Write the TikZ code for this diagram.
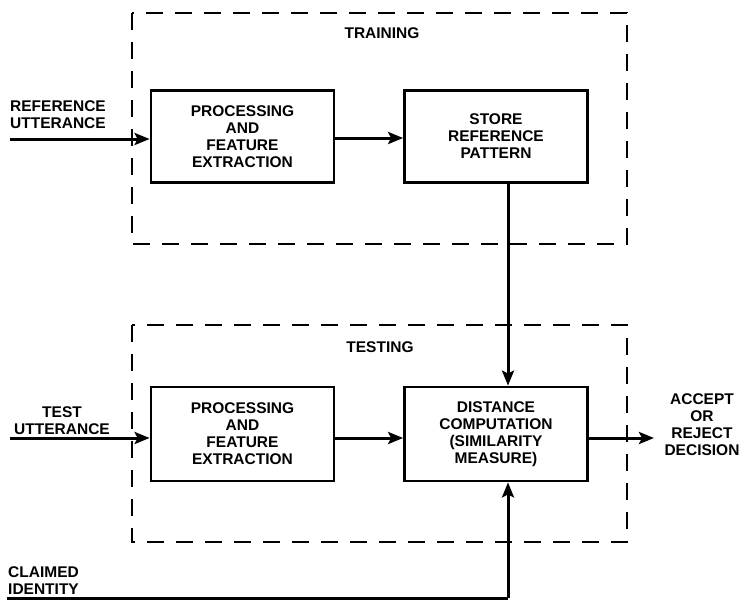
\documentclass[tikz,border=0pt]{standalone}
\usepackage{fontspec}
\setmainfont{Liberation Sans}
\usetikzlibrary{arrows.meta}
\begin{document}
\begin{tikzpicture}[x=1pt,y=-1pt,
  lbl/.style={font=\bfseries\fontsize{15.5}{17}\selectfont, align=center, inner sep=0pt},
  blk/.style={draw, line width=2.8pt, minimum width=183pt, minimum height=92pt, inner sep=0pt,
              font=\bfseries\fontsize{15.5}{17}\selectfont, align=center},
  grp/.style={draw, line width=2.6pt, dash pattern=on 17pt off 12pt},
  conn/.style={line width=3pt, -{Stealth[length=15pt,width=12pt,inset=3pt]}},
  plain/.style={line width=3pt}]
\useasboundingbox (0,0) rectangle (739,600);
% group frames
\draw[grp] (132,13) rectangle (627,244);
\draw[grp] (132,325) rectangle (627,542);
\node[lbl] (ttrain) at (382,33) {TRAINING};
\node[lbl] (ttest) at (380,347) {TESTING};
% blocks
\node[blk] (p1) at (242.5,136.5) {PROCESSING\\AND\\FEATURE\\EXTRACTION};
\node[blk] (st) at (496,136.5) {STORE\\REFERENCE\\PATTERN};
\node[blk, minimum height=94pt] (p2) at (242.5,434) {PROCESSING\\AND\\FEATURE\\EXTRACTION};
\node[blk, minimum height=94pt] (dc) at (496,434) {DISTANCE\\COMPUTATION\\(SIMILARITY\\MEASURE)};
% external labels
\node[lbl, align=left, anchor=west] (refu) at (10,115) {REFERENCE\\UTTERANCE};
\node[lbl] (testu) at (62,421) {TEST\\UTTERANCE};
\node[lbl] (acc) at (702,425) {ACCEPT\\OR\\REJECT\\DECISION};
\node[lbl, align=left, anchor=west] (cid) at (8,581) {CLAIMED\\IDENTITY};
% free ends
\coordinate (inA) at (10,139);
\coordinate (inB) at (10,438);
\coordinate (outC) at (654,438);
\coordinate (cl) at (7,598);
\coordinate (clc) at (508,598);
% connectors
\draw[conn] (inA) -- (inA -| p1.west);
\draw[conn] (p1.east |- 0,138) -- (st.west |- 0,138);
\draw[conn] (st.south -| 508,0) -- (dc.north -| 508,0);
\draw[conn] (inB) -- (inB -| p2.west);
\draw[conn] (p2.east |- 0,438) -- (dc.west |- 0,438);
\draw[conn] (dc.east |- outC) -- (outC);
\draw[plain] (cl) -- (clc);
\draw[conn] (clc) -- (dc.south -| clc);
\end{tikzpicture}
\end{document}
